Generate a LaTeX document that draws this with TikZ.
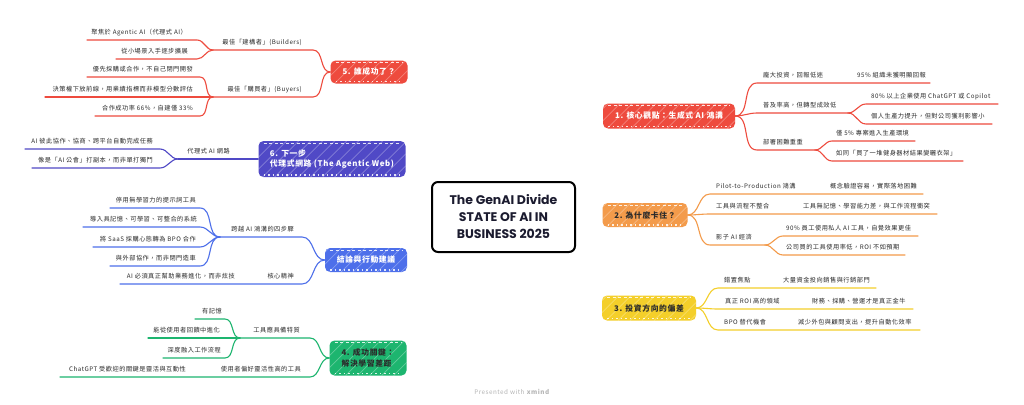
\documentclass[tikz,border=0pt]{standalone}
\usepackage{fontspec}
\newfontfamily\cjk[LetterSpace=8]{Noto Sans CJK TC}
\newfontfamily\titlefont{Poppins}
\usetikzlibrary{calc}
\pgfdeclarelayer{background}
\pgfsetlayers{background,main}
\definecolor{cred}{HTML}{EE4B3E}
\definecolor{corange}{HTML}{F39B4B}
\definecolor{cyellow}{HTML}{F4CF2A}
\definecolor{cgreen}{HTML}{1DB56F}
\definecolor{cblue}{HTML}{4D6FEA}
\definecolor{cindigo}{HTML}{5049C6}
\definecolor{txt}{HTML}{2B2B2B}
\definecolor{titlecol}{HTML}{1B1B2F}
\definecolor{foot}{HTML}{B5B5B5}
\newcommand\lblfont{\cjk\fontsize{6.2}{7.5}\selectfont}
\newcommand\mfont{\cjk\bfseries\fontsize{7.8}{10.5}\selectfont}
\newcommand\lblR[4]{\node[lbl,anchor=base west] (#1) at (#2,#3-5.5) {#4};}
\newcommand\lblL[4]{\node[lbl,anchor=base east] (#1) at (#2,#3-5.5) {#4};}
\tikzset{
  lbl/.style={font=\lblfont, text=txt, inner sep=0pt},
  sub/.style={line width=1.1pt, line cap=round},
  trunk/.style={line width=3pt, line cap=round},
  sketch/.style={path picture={
    \foreach \k in {0,12,...,170} {\draw[white,opacity=.3,line width=.7pt] ([xshift={(\k-20)*1pt}]path picture bounding box.south west) -- ++(40,-40);}
    \draw[white,opacity=.85,line width=1.2pt,dash pattern=on 3pt off 2.5pt] ([xshift=5pt,yshift=-2.2pt]path picture bounding box.north west) -- ([xshift=-5pt,yshift=-2.2pt]path picture bounding box.north east);
    \draw[white,opacity=.85,line width=1.2pt,dash pattern=on 1.5pt off 3pt] ([xshift=5pt,yshift=2pt]path picture bounding box.south west) -- ([xshift=-5pt,yshift=2pt]path picture bounding box.south east);
  }},
  mnode/.style={rounded corners=5pt, inner sep=2pt, font=\mfont, sketch, align=left},
}
\begin{document}
\begin{tikzpicture}[x=1pt,y=-1pt]
\useasboundingbox (0,0) rectangle (1024,404);
\fill[white] (0,0) rectangle (1024,404);

% central node
\node[draw=black, line width=2pt, rounded corners=6pt, fill=white, minimum width=143, minimum height=70, align=center, font=\titlefont\bfseries\fontsize{12.5}{17}\selectfont, text=titlecol] (center) at (503.5,217) {The GenAI Divide\\STATE OF AI IN\\BUSINESS 2025};

% main topics
\node[mnode, fill=cred, text=white, minimum width=132, minimum height=25] (n1) at (669,116) {1. 核心觀點：生成式 AI 鴻溝};
\node[mnode, fill=corange, text=txt, minimum width=85, minimum height=24] (n2) at (645,215) {2. 為什麼卡住？};
\node[mnode, fill=cyellow, text=txt, minimum width=94, minimum height=25] (n3) at (649,308) {3. 投資方向的偏差};
\node[mnode, fill=cgreen, text=txt, minimum width=77, minimum height=35] (n4) at (368,358) {4. 成功關鍵：\\解決學習差距};
\node[mnode, fill=cblue, text=white, minimum width=82, minimum height=24] (nc) at (366,260) {結論與行動建議};
\node[mnode, fill=cindigo, text=white, minimum width=147, minimum height=36] (n6) at (332,159) {6. 下一步\\代理式網路 (The Agentic Web)};
\node[mnode, fill=cred, text=white, minimum width=77, minimum height=23] (n5) at (369,72) {5. 誰成功了？};

% trunks
\begin{pgfonlayer}{background}
\draw[trunk,cred] ([xshift=28pt]center.north) to[out=75,in=180] (n1.west);
\draw[trunk,corange] (center.east) to[out=0,in=180] (n2.west);
\draw[trunk,cyellow] ([xshift=28pt]center.south) to[out=-75,in=180] (n3.west);
\draw[trunk,cred] ([xshift=-20pt]center.north) to[out=105,in=0] (n5.east);
\draw[trunk,cindigo] ([xshift=10pt]center.north west) to[out=120,in=0] (n6.east);
\draw[trunk,cblue] ([xshift=10pt]center.south west) to[out=-120,in=0] (nc.east);
\draw[trunk,cgreen] ([xshift=-20pt]center.south) to[out=-105,in=0] (n4.east);
\end{pgfonlayer}

% ---------- branch 1 ----------
\coordinate (r1a) at (757,83); \coordinate (r1ae) at (930,83);
\coordinate (r1b) at (757,113); \coordinate (r1bf) at (848,113);
\coordinate (r1b1) at (866,104); \coordinate (r1b1e) at (998,104);
\coordinate (r1b2) at (866,124); \coordinate (r1b2e) at (992,124);
\coordinate (r1c) at (757,150); \coordinate (r1cf) at (815,150);
\coordinate (r1c1) at (832,141); \coordinate (r1c1e) at (915,141);
\coordinate (r1c2) at (832,161); \coordinate (r1c2e) at (963,161);
\draw[sub,cred] (n1.east) to[out=0,in=180] (r1a) -- (r1ae);
\draw[sub,cred] (n1.east) to[out=0,in=180] (r1b) -- (r1bf);
\draw[sub,cred] (r1bf) to[out=0,in=180] (r1b1) -- (r1b1e);
\draw[sub,cred] (r1bf) to[out=0,in=180] (r1b2) -- (r1b2e);
\draw[sub,cred] (n1.east) to[out=0,in=180] (r1c) -- (r1cf);
\draw[sub,cred] (r1cf) to[out=0,in=180] (r1c1) -- (r1c1e);
\draw[sub,cred] (r1cf) to[out=0,in=180] (r1c2) -- (r1c2e);
\lblR{t1a}{763}{83}{龐大投資，回報低迷}
\lblR{t1a1}{857}{83}{95\% 組織未獲明顯回報}
\lblR{t1b}{763}{113}{普及率高，但轉型成效低}
\lblR{t1b1}{871}{104}{80\% 以上企業使用 ChatGPT 或 Copilot}
\lblR{t1b2}{871}{124}{個人生產力提升，但對公司獲利影響小}
\lblR{t1c}{763}{150}{部署困難重重}
\lblR{t1c1}{836}{141}{僅 5\% 專案進入生產環境}
\lblR{t1c2}{836}{161}{如同「買了一堆健身器材結果變曬衣架」}

% ---------- branch 2 ----------
\coordinate (r2a) at (710,194); \coordinate (r2ae) at (923,194);
\coordinate (r2b) at (710,214); \coordinate (r2be) at (937,214);
\coordinate (r2c) at (710,245); \coordinate (r2cf) at (765,245);
\coordinate (r2c1) at (783,236); \coordinate (r2c1e) at (918,236);
\coordinate (r2c2) at (783,255); \coordinate (r2c2e) at (905,255);
\draw[sub,corange] (n2.east) to[out=0,in=180] (r2a) -- (r2ae);
\draw[sub,corange] (n2.east) to[out=0,in=180] (r2b) -- (r2be);
\draw[sub,corange] (n2.east) to[out=0,in=180] (r2c) -- (r2cf);
\draw[sub,corange] (r2cf) to[out=0,in=180] (r2c1) -- (r2c1e);
\draw[sub,corange] (r2cf) to[out=0,in=180] (r2c2) -- (r2c2e);
\lblR{t2a}{716}{194}{Pilot-to-Production 鴻溝}
\lblR{t2a1}{830}{194}{概念驗證容易，實際落地困難}
\lblR{t2b}{716}{214}{工具與流程不整合}
\lblR{t2b1}{803}{214}{工具無記憶、學習能力差，與工作流程衝突}
\lblR{t2c}{716}{245}{影子 AI 經濟}
\lblR{t2c1}{786}{236}{90\% 員工使用私人 AI 工具，自覺效果更佳}
\lblR{t2c2}{786}{255}{公司買的工具使用率低，ROI 不如預期}

% ---------- branch 3 ----------
\coordinate (r3a) at (718,288); \coordinate (r3ae) at (876,288);
\coordinate (r3b) at (718,309); \coordinate (r3be) at (913,309);
\coordinate (r3c) at (718,330); \coordinate (r3ce) at (920,330);
\draw[sub,cyellow] (n3.east) to[out=0,in=180] (r3a) -- (r3ae);
\draw[sub,cyellow] (n3.east) to[out=0,in=180] (r3b) -- (r3be);
\draw[sub,cyellow] (n3.east) to[out=0,in=180] (r3c) -- (r3ce);
\lblR{t3a}{724}{288}{錯置焦點}
\lblR{t3a1}{783}{288}{大量資金投向銷售與行銷部門}
\lblR{t3b}{725}{309}{真正 ROI 高的領域}
\lblR{t3b1}{812}{309}{財務、採購、營運才是真正金牛}
\lblR{t3c}{724}{330}{BPO 替代機會}
\lblR{t3c1}{798}{330}{減少外包與顧問支出，提升自動化效率}

% ---------- branch 5 ----------
\coordinate (l5a) at (313,50); \coordinate (l5af) at (213,50);
\coordinate (l5a1) at (197,40); \coordinate (l5a1e) at (87,40);
\coordinate (l5a2) at (197,59); \coordinate (l5a2e) at (116,59);
\coordinate (l5b) at (313,97); \coordinate (l5bf) at (213,97);
\coordinate (l5b1) at (200,77); \coordinate (l5b1e) at (87,77);
\coordinate (l5b2e) at (45,97);
\coordinate (l5b3) at (200,116); \coordinate (l5b3e) at (95,116);
\draw[sub,cred] (n5.west) to[out=180,in=0] (l5a) -- (l5af);
\draw[sub,cred] (l5af) to[out=180,in=0] (l5a1) -- (l5a1e);
\draw[sub,cred] (l5af) to[out=180,in=0] (l5a2) -- (l5a2e);
\draw[sub,cred] (n5.west) to[out=180,in=0] (l5b) -- (l5bf);
\draw[sub,cred] (l5bf) to[out=180,in=0] (l5b1) -- (l5b1e);
\draw[sub,cred] (l5bf) -- (l5b2e);
\draw[sub,cred] (l5bf) to[out=180,in=0] (l5b3) -- (l5b3e);
\lblL{t5a}{302}{50}{最佳「建構者」(Builders)}
\lblL{t5a1}{187}{40}{聚焦於 Agentic AI（代理式 AI）}
\lblL{t5a2}{188}{59}{從小場景入手逐步擴展}
\lblL{t5b}{302}{97}{最佳「購買者」(Buyers)}
\lblL{t5b1}{193}{77}{優先採購或合作，不自己閉門開發}
\lblL{t5b2}{193}{97}{決策權下放前線，用業績指標而非模型分數評估}
\lblL{t5b3}{193}{116}{合作成功率 66\%，自建僅 33\%}

% ---------- branch 6 ----------
\coordinate (l6af) at (178,159);
\coordinate (l6a1) at (160,149); \coordinate (l6a1e) at (25,149);
\coordinate (l6a2) at (160,168); \coordinate (l6a2e) at (32,168);
\draw[sub,cindigo] (n6.west) -- (l6af);
\draw[sub,cindigo] (l6af) to[out=180,in=0] (l6a1) -- (l6a1e);
\draw[sub,cindigo] (l6af) to[out=180,in=0] (l6a2) -- (l6a2e);
\lblL{t6a}{230}{159}{代理式 AI 網路}
\lblL{t6a1}{153}{149}{AI 彼此協作、協商、跨平台自動完成任務}
\lblL{t6a2}{153}{168}{像是「AI 公會」打副本，而非單打獨鬥}

% ---------- branch conclusions ----------
\coordinate (lca) at (302,237); \coordinate (lcaf) at (220,237);
\coordinate (lca1) at (200,208); \coordinate (lca1e) at (110,208);
\coordinate (lca2) at (200,227); \coordinate (lca2e) at (83,227);
\coordinate (lca3) at (200,247); \coordinate (lca3e) at (93,247);
\coordinate (lca4) at (200,266); \coordinate (lca4e) at (110,266);
\coordinate (lcb) at (302,284); \coordinate (lcbe) at (120,284);
\draw[sub,cblue] (nc.west) to[out=180,in=0] (lca) -- (lcaf);
\draw[sub,cblue] (lcaf) to[out=180,in=0] (lca1) -- (lca1e);
\draw[sub,cblue] (lcaf) to[out=180,in=0] (lca2) -- (lca2e);
\draw[sub,cblue] (lcaf) to[out=180,in=0] (lca3) -- (lca3e);
\draw[sub,cblue] (lcaf) to[out=180,in=0] (lca4) -- (lca4e);
\draw[sub,cblue] (nc.west) to[out=180,in=0] (lcb) -- (lcbe);
\lblL{tca}{294}{237}{跨越 AI 鴻溝的四步驟}
\lblL{tca1}{196}{208}{停用無學習力的提示詞工具}
\lblL{tca2}{197}{227}{導入具記憶、可學習、可整合的系統}
\lblL{tca3}{196}{247}{將 SaaS 採購心態轉為 BPO 合作}
\lblL{tca4}{196}{266}{與外部協作，而非閉門造車}
\lblL{tcb}{294}{284}{核心精神}
\lblL{tcb1}{235}{284}{AI 必須真正幫助業務進化，而非炫技}

% ---------- branch 4 ----------
\coordinate (l4a) at (310,338); \coordinate (l4af) at (240,338);
\coordinate (l4a1) at (225,319); \coordinate (l4a1e) at (195,319);
\coordinate (l4a2e) at (148,338);
\coordinate (l4a3) at (225,358); \coordinate (l4a3e) at (163,358);
\coordinate (l4b) at (310,377); \coordinate (l4be) at (60,377);
\draw[sub,cgreen] (n4.west) to[out=180,in=0] (l4a) -- (l4af);
\draw[sub,cgreen] (l4af) to[out=180,in=0] (l4a1) -- (l4a1e);
\draw[sub,cgreen] (l4af) -- (l4a2e);
\draw[sub,cgreen] (l4af) to[out=180,in=0] (l4a3) -- (l4a3e);
\draw[sub,cgreen] (n4.west) to[out=180,in=0] (l4b) -- (l4be);
\lblL{t4a}{300}{338}{工具應具備特質}
\lblL{t4a1}{222}{319}{有記憶}
\lblL{t4a2}{220}{338}{能從使用者回饋中進化}
\lblL{t4a3}{221}{358}{深度融入工作流程}
\lblL{t4b}{301}{377}{使用者偏好靈活性高的工具}
\lblL{t4b1}{186}{377}{ChatGPT 受歡迎的關鍵是靈活與互動性}

% footer
\node[font=\cjk\fontsize{6.3}{8}\selectfont, text=foot, inner sep=0pt] (footer) at (512,392) {Presented with \textbf{xmind}};
\end{tikzpicture}
\end{document}
